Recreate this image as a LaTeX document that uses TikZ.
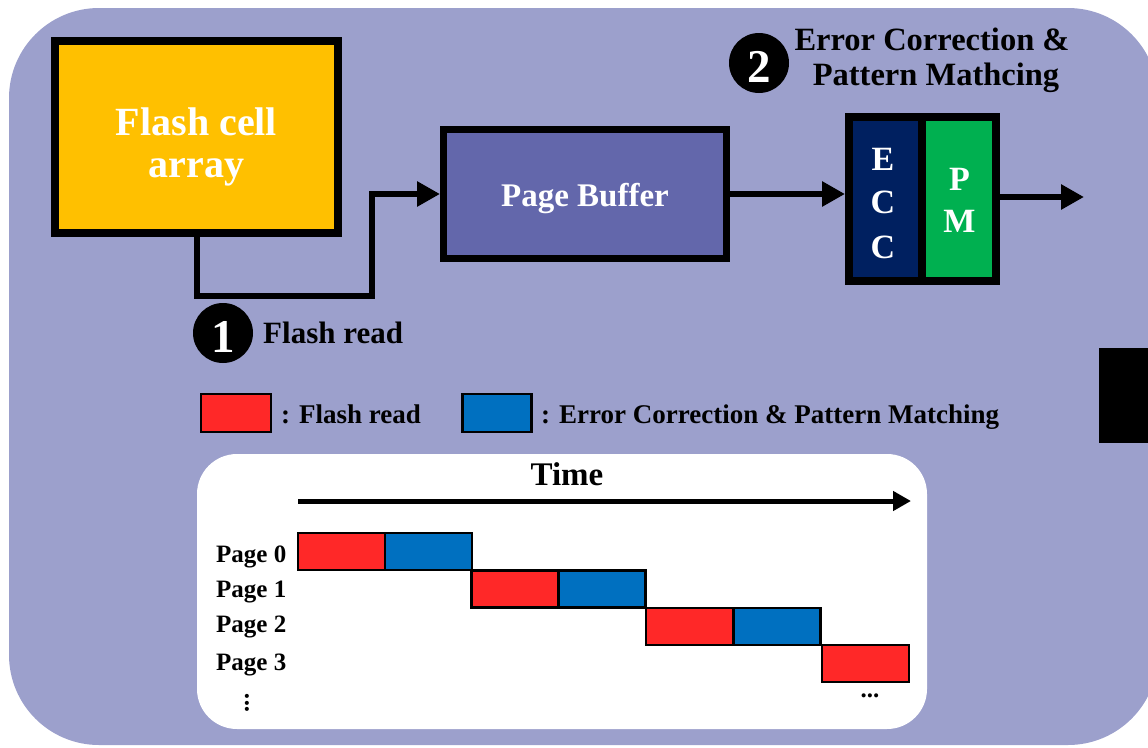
\documentclass[tikz,border=0pt]{standalone}
\usepackage{fontspec}
\setmainfont{Liberation Serif}
\usetikzlibrary{arrows.meta}

\definecolor{panelbg}{HTML}{9CA0CC}
\definecolor{flashyellow}{HTML}{FFC000}
\definecolor{pagebuf}{HTML}{6367AB}
\definecolor{eccnavy}{HTML}{002060}
\definecolor{pmgreen}{HTML}{00B050}
\definecolor{barred}{HTML}{FF2828}
\definecolor{barblue}{HTML}{0070C0}

\tikzset{
  blockbox/.style={draw=black, line join=miter, inner sep=0pt},
  txt/.style={font=\bfseries\fontsize{#1}{#1}\selectfont, inner sep=0pt, anchor=base},
  wtxt/.style={txt=#1, text=white},
  link/.style={draw=black, line width=6pt, line join=miter},
  bigtip/.style={-{Triangle[length=23pt,width=24pt]}},
  bar/.style={draw=black, line width=2.6pt, minimum width=87pt, minimum height=37pt, inner sep=0pt},
  stepnum/.style={circle, fill=black, minimum size=60pt, inner sep=0pt},
}

\begin{document}
\begin{tikzpicture}[x=1pt,y=-1pt]
\useasboundingbox (0,0) rectangle (1148,747);

% background panel and the side tab
\fill[panelbg, rounded corners=90pt] (9,8) rectangle (1158,745);
\fill[black] (1099,348) rectangle (1160,443);

% flash cell array
\node[blockbox, fill=flashyellow, line width=8pt, minimum width=283pt, minimum height=192pt] (flash) at (196.5,137) {};
\node[wtxt=40] (flashA) at (196.5,135) {Flash cell};
\node[wtxt=40] (flashB) at (196.5,177) {array};

% page buffer
\node[blockbox, fill=pagebuf, line width=7pt, minimum width=283pt, minimum height=129pt] (pb) at (585,194) {};
\node[wtxt=33] (pbtxt) at (585,206) {Page Buffer};

% ECC and pattern matching units
\node[blockbox, fill=eccnavy, line width=8pt, minimum width=73pt, minimum height=164pt] (ecc) at (885.5,199) {};
\node[blockbox, fill=pmgreen, line width=8pt, minimum width=74pt, minimum height=164pt] (pm) at (959,199) {};
\node[wtxt=34] (e1) at (883,170) {E};
\node[wtxt=34] (e2) at (883,213) {C};
\node[wtxt=34] (e3) at (883,258) {C};
\node[wtxt=34] (m1) at (959.5,190) {P};
\node[wtxt=34] (m2) at (959.5,232) {M};

% data path
\coordinate (bend) at (372,296);
\coordinate (out) at (1084,197);
\draw[link, bigtip] (flash.south) |- (bend) |- (pb.west);
\draw[link, bigtip] (pb.east) -- (pb.east -| ecc.west);
\draw[link, bigtip] (pm.east |- out) -- (out);

% step markers
\node[stepnum] (s2) at (759,63) {};
\node[wtxt=47] (s2n) at (759,82) {2};
\node[txt=32.5] (s2a) at (932,50) {Error Correction \&};
\node[txt=32.5] (s2b) at (936,85) {Pattern Mathcing};

\node[stepnum] (s1) at (223,333) {};
\node[wtxt=47] (s1n) at (223,352) {1};
\node[txt=31, anchor=base west] (s1a) at (263,343) {Flash read};

% legend
\node[bar, fill=barred, minimum width=70pt, minimum height=38pt] (legR) at (236,413) {};
\node[txt=27, anchor=base west] (legRt) at (281,423) {: Flash read};
\node[bar, fill=barblue, minimum width=69pt, minimum height=38pt] (legB) at (497,413) {};
\node[txt=27, anchor=base west] (legBt) at (541,423) {: Error Correction \& Pattern Matching};

% timing panel
\fill[white, rounded corners=40pt] (197,454) rectangle (927,729);
\node[txt=33] (time) at (567,485) {Time};
\coordinate (t0) at (298,501);
\coordinate (t1) at (911,501);
\draw[line width=5pt, -{Triangle[length=18pt,width=19pt]}] (t0) -- (t1);

\node[txt=25, anchor=base west] (pg0) at (216,562) {Page 0};
\node[txt=25, anchor=base west] (pg1) at (216,597) {Page 1};
\node[txt=25, anchor=base west] (pg2) at (216,632) {Page 2};
\node[txt=25, anchor=base west] (pg3) at (216,670) {Page 3};
\node[txt=25, rotate=90, anchor=center] (vdots) at (247,703) {...};
\node[txt=25, anchor=center] (hdots) at (870,696) {...};

\node[bar, fill=barred]  (r0) at (341.5,551.5) {};
\node[bar, fill=barblue] (b0) at (428.5,551.5) {};
\node[bar, fill=barred]  (r1) at (515,589) {};
\node[bar, fill=barblue] (b1) at (602,589) {};
\node[bar, fill=barred]  (r2) at (689.5,626.5) {};
\node[bar, fill=barblue] (b2) at (777,626.5) {};
\node[bar, fill=barred]  (r3) at (865.5,663.5) {};
\end{tikzpicture}
\end{document}
